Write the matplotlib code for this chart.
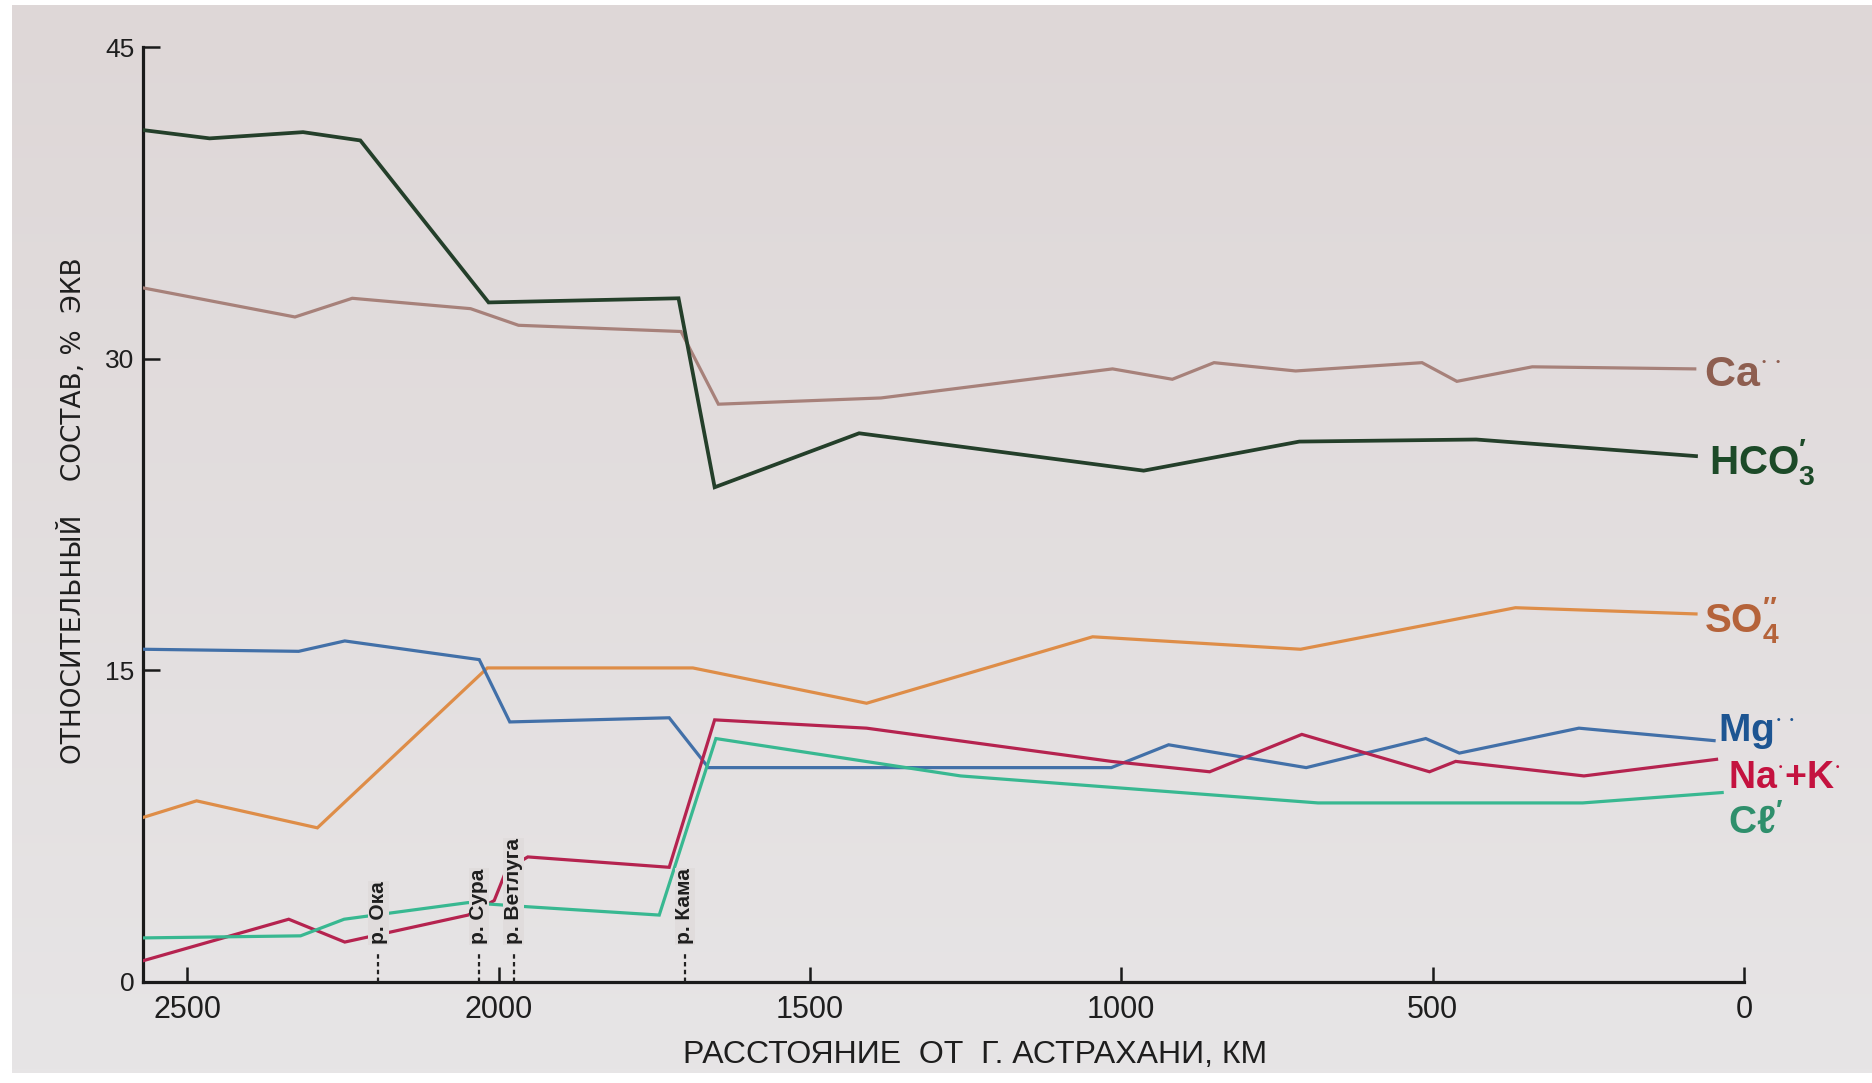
import numpy as np
import matplotlib
matplotlib.use('Agg')
import matplotlib.pyplot as plt

# расстояние от Астрахани, км / относительный состав, % экв
hco3_km = [2571, 2464, 2314, 2222, 2016, 1711, 1653, 1421, 964, 714, 430, 77]
hco3 = [41.0, 40.6, 40.9, 40.5, 32.7, 32.9, 23.8, 26.4, 24.6, 26.0, 26.1, 25.3]

ca_km = [2571, 2327, 2235, 2045, 1968, 1707, 1647, 1386, 1014, 918, 851, 720, 517, 461, 340, 79]
ca = [33.4, 32.0, 32.9, 32.4, 31.6, 31.3, 27.8, 28.1, 29.5, 29.0, 29.8, 29.4, 29.8, 28.9, 29.6, 29.5]

so4_km = [2571, 2485, 2291, 2018, 1688, 1409, 1046, 712, 367, 77]
so4 = [7.9, 8.7, 7.4, 15.1, 15.1, 13.4, 16.6, 16.0, 18.0, 17.7]

mg_km = [2571, 2321, 2247, 2031, 1982, 1726, 1663, 1016, 924, 703, 511, 457, 265, 48]
mg = [16.0, 15.9, 16.4, 15.5, 12.5, 12.7, 10.3, 10.3, 11.4, 10.3, 11.7, 11.0, 12.2, 11.6]

nak_km = [2571, 2337, 2247, 2049, 2007, 1987, 1953, 1726, 1653, 1409, 1016, 858, 710, 505, 463, 257, 44]
nak = [1.0, 3.0, 1.9, 3.2, 3.9, 5.4, 6.0, 5.5, 12.6, 12.2, 10.6, 10.1, 11.9, 10.1, 10.6, 9.9, 10.7]

cl_km = [2571, 2318, 2248, 2049, 1953, 1742, 1651, 1258, 684, 259, 35]
cl = [2.1, 2.2, 3.0, 3.8, 3.6, 3.2, 11.7, 9.9, 8.6, 8.6, 9.1]

rivers = ['р. Ока', 'р. Сура', 'р. Ветлуга', 'р. Кама']
river_km = [2193, 2032, 1976, 1701]

xticks = [2500, 2000, 1500, 1000, 500, 0]
yticks = [0, 15, 30, 45]

fam = ['Liberation Sans', 'DejaVu Sans']
plt.rcParams['mathtext.fontset'] = 'custom'
plt.rcParams['mathtext.rm'] = 'Liberation Sans:bold'
plt.rcParams['mathtext.bf'] = 'Liberation Sans:bold'
plt.rcParams['mathtext.default'] = 'rm'

fig = plt.figure(figsize=(18.72, 10.83), dpi=100)
fig.patch.set_facecolor('white')

# лист бумаги
bg = fig.add_axes([0.0064, 0.0092, 0.9936, 0.9862])
grad = np.linspace(0, 1, 256).reshape(-1, 1)
top = np.array([222, 215, 215]) / 255
bot = np.array([231, 229, 230]) / 255
img = top + (bot - top) * grad[..., None]
bg.imshow(img, aspect='auto', extent=[0, 1, 0, 1])
bg.axis('off')

ax = fig.add_axes([0.0764, 0.0937, 0.8552, 0.8629])
ax.patch.set_alpha(0)

series = [
    (ca_km, ca, '#a7817a', 2.3, r'Ca$^{\cdot\cdot}$', '#8e5e50', 31, (7, -12)),
    (hco3_km, hco3, '#243f2a', 2.7, r'HCO$_3^{\prime}$', '#1c4a28', 29, (9, -13)),
    (so4_km, so4, '#de8d48', 2.3, r'SO$_4^{\prime\prime}$', '#b5633a', 29, (6, -13)),
    (mg_km, mg, '#4270a8', 2.3, r'Mg$^{\cdot\cdot}$', '#1d5592', 28, (3, 0)),
    (nak_km, nak, '#b5234f', 2.3, r'Na$^{\cdot}$+K$^{\cdot}$', '#c4123f', 27, (8, -21)),
    (cl_km, cl, '#38b891', 2.3, r'Cℓ$^{\prime}$', '#2f8f6c', 28, (4, -29)),
]

for km, val, c, lw, lab, tc, fs, off in series:
    ax.plot(km, val, color=c, lw=lw, solid_joinstyle='miter', zorder=3)
    ax.annotate(lab, xy=(km[-1], val[-1]), xytext=off, textcoords='offset points',
                ha='left', va='baseline', color=tc, fontsize=fs, family=fam,
                weight='bold', annotation_clip=False)

# устья притоков
for name, km in zip(rivers, river_km):
    ax.plot([km, km], [0, 1.4], color='#222222', lw=1.6, ls=(0, (2, 1.5)), zorder=4)
    ax.text(km, 1.8, name, rotation=90, ha='center', va='bottom', fontsize=15,
            family=fam, weight='bold', color='#1e1e1e', zorder=5,
            bbox=dict(facecolor='#e0dcdc', edgecolor='none', pad=0.5))

ax.set_xlim(2571, 0)
ax.set_ylim(0, 45)
for s in ['top', 'right']:
    ax.spines[s].set_visible(False)
for s in ['left', 'bottom']:
    ax.spines[s].set_linewidth(2.3)
    ax.spines[s].set_color('#1a1a1a')

ax.set_xticks(xticks)
ax.set_xticklabels([str(t) for t in xticks], fontsize=22, family=fam, color='#1e1e1e')
ax.set_yticks(yticks)
ax.set_yticklabels([str(t) for t in yticks], fontsize=19, family=fam, color='#1e1e1e')
ax.tick_params(axis='x', direction='in', length=11, width=1.8, pad=10, color='#1a1a1a')
ax.tick_params(axis='y', direction='in', length=12, width=1.8, pad=6, color='#1a1a1a')

fig.text(0.039, 0.528, 'ОТНОСИТЕЛЬНЫЙ    СОСТАВ, %  ЭКВ', rotation=90,
         ha='center', va='center', fontsize=19, family='DejaVu Sans', color='#1e1e1e')
fig.text(0.521, 0.026, 'РАССТОЯНИЕ  ОТ  Г. АСТРАХАНИ, КМ', ha='center', va='center',
         fontsize=23, family=fam, color='#1e1e1e')

fig.savefig('out.png', dpi=100)
